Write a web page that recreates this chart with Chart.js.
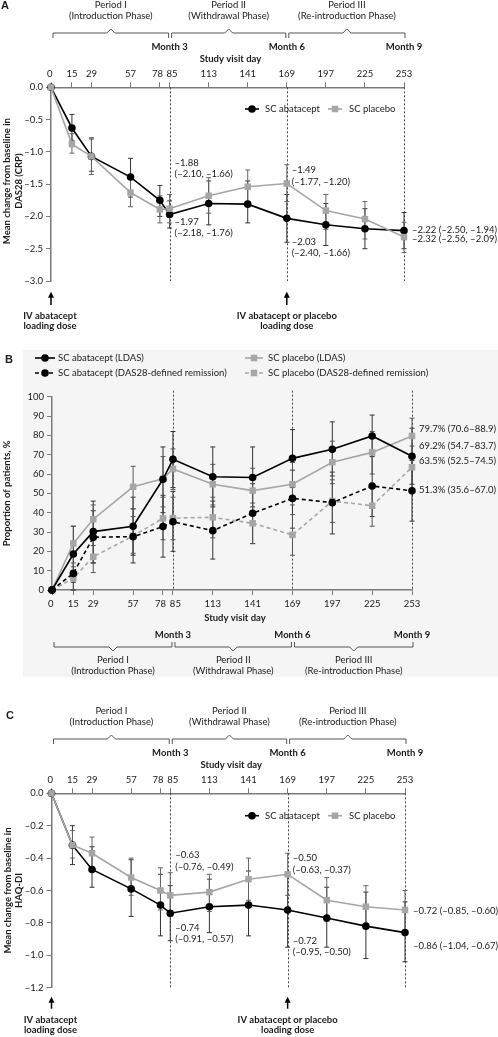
<!DOCTYPE html>
<html>
<head>
<meta charset="utf-8">
<title>Abatacept study visit charts</title>
<script src="https://cdn.jsdelivr.net/npm/chart.js@4.4.1/dist/chart.umd.min.js"></script>
<style>
  body { margin: 0; background: #fff; }
  #page { position: relative; width: 498px; height: 1037px; }
  #page canvas { position: absolute; left: 0; top: 0; }
</style>
</head>
<body>
<div id="page">
  <canvas id="chartA" width="498" height="1037"></canvas>
  <canvas id="chartB" width="498" height="1037"></canvas>
  <canvas id="chartC" width="498" height="1037"></canvas>
</div>
<script>
const FONT = 'Lato, "Liberation Sans", Arial, sans-serif';
const INK = '#1a1a1a';
const GRAY = '#a6a6a6';
const AXIS = '#7a7a7a';

// shared x values (study visit day)
const days = [0, 15, 29, 57, 78, 85, 113, 141, 169, 197, 225, 253];
const periodEdges = [0, 85, 169, 253];
const monthDays = [85, 169, 253];
const monthLabels = ['Month 3', 'Month 6', 'Month 9'];
const periodLabels = ['Period I', 'Period II', 'Period III'];
const phaseLabels = ['(Introduction Phase)', '(Withdrawal Phase)', '(Re-introduction Phase)'];

// Panel A - mean change in DAS28 (CRP)
const dasAbatacept     = [0, -0.63, -1.07, -1.39, -1.75, -1.97, -1.80, -1.81, -2.03, -2.13, -2.19, -2.22];
const dasAbataceptLow  = [null, -0.82, -1.30, -1.70, -2.00, -2.18, -2.13, -2.10, -2.40, -2.45, -2.50, -2.50];
const dasAbataceptHigh = [null, -0.42, -0.80, -1.10, -1.52, -1.76, -1.45, -1.45, -1.66, -1.80, -1.88, -1.94];
const dasPlacebo       = [0, -0.88, -1.07, -1.63, -1.89, -1.88, -1.68, -1.54, -1.49, -1.91, -2.04, -2.32];
const dasPlaceboLow    = [null, -1.02, -1.35, -1.85, -2.10, -2.10, -1.95, -1.80, -1.77, -2.20, -2.35, -2.56];
const dasPlaceboHigh   = [null, -0.72, -0.78, -1.40, -1.68, -1.66, -1.40, -1.28, -1.20, -1.66, -1.77, -2.09];

// Panel B - proportion of patients, %
const ldasAbatacept     = [0, 18.6, 30.2, 33.0, 57.3, 67.6, 58.6, 58.2, 68.1, 72.8, 79.7, 69.2];
const ldasAbataceptLow  = [null, 4, 14, 18, 40, 53, 43, 43, 53, 59, 69, 54.7];
const ldasAbataceptHigh = [null, 33, 46, 48, 74, 82, 74, 74, 83, 87, 90.5, 83.7];
const ldasPlacebo       = [0, 24.1, 36.6, 53.4, 57.5, 62.6, 54.7, 51.4, 54.7, 66.1, 71.2, 79.7];
const ldasPlaceboLow    = [null, 12, 23, 42, 43, 52, 44, 41, 44, 55, 60, 70.6];
const ldasPlaceboHigh   = [null, 33, 44, 64, 69, 73, 65, 63, 66, 77, 82, 88.9];
const remAbatacept      = [0, 8.6, 27.3, 27.6, 32.8, 35.3, 30.7, 39.7, 47.4, 45.2, 53.8, 51.3];
const remAbataceptLow   = [null, 0, 14, 14, 17, 20, 16, 24, 32, 29, 38, 35.6];
const remAbataceptHigh  = [null, 18, 41, 42, 49, 51, 46, 55, 62, 61, 70, 67.0];
const remPlacebo        = [0, 6.0, 17.2, 28.0, 37.1, 37.2, 37.6, 34.5, 28.5, 46.0, 43.6, 63.5];
const remPlaceboLow     = [null, 0, 9, 19, 26, 26, 27, 24, 18, 35, 33, 52.5];
const remPlaceboHigh    = [null, 14, 26, 38, 48, 48, 48, 45, 39, 57, 54, 74.5];

// Panel C - mean change in HAQ-DI
const haqAbatacept     = [0, -0.32, -0.47, -0.59, -0.69, -0.74, -0.70, -0.69, -0.72, -0.77, -0.82, -0.86];
const haqAbataceptLow  = [null, -0.44, -0.58, -0.76, -0.88, -0.91, -0.86, -0.88, -0.95, -0.95, -1.02, -1.04];
const haqAbataceptHigh = [null, -0.20, -0.33, -0.41, -0.50, -0.57, -0.53, -0.48, -0.50, -0.58, -0.61, -0.67];
const haqPlacebo       = [0, -0.32, -0.37, -0.52, -0.60, -0.63, -0.61, -0.53, -0.50, -0.66, -0.70, -0.72];
const haqPlaceboLow    = [null, -0.40, -0.46, -0.63, -0.72, -0.76, -0.73, -0.66, -0.63, -0.79, -0.82, -0.85];
const haqPlaceboHigh   = [null, -0.23, -0.27, -0.40, -0.46, -0.49, -0.50, -0.40, -0.37, -0.52, -0.57, -0.60];

const legendPair = ['SC abatacept', 'SC placebo'];
const legendB = ['SC abatacept (LDAS)', 'SC abatacept (DAS28-defined remission)',
                 'SC placebo (LDAS)', 'SC placebo (DAS28-defined remission)'];

// value labels next to the points (day, y anchor in axis units, text)
const dasNotes = [
  { day: 85, at: -1.17, lines: ['–1.88', '(–2.10, –1.66)'] },
  { day: 85, at: -2.08, lines: ['–1.97', '(–2.18, –1.76)'] },
  { day: 169, at: -1.28, lines: ['–1.49', '(–1.77, –1.20)'] },
  { day: 169, at: -2.39, lines: ['–2.03', '(–2.40, –1.66)'] },
  { day: 253, at: -2.215, lines: ['–2.22 (–2.50, –1.94)'], dx: 8 },
  { day: 253, at: -2.345, lines: ['–2.32 (–2.56, –2.09)'], dx: 8 }
];
const propNotes = [
  { day: 253, at: 83.3, lines: ['79.7% (70.6–88.9)'], dx: 7 },
  { day: 253, at: 74.6, lines: ['69.2% (54.7–83.7)'], dx: 7 },
  { day: 253, at: 66.9, lines: ['63.5% (52.5–74.5)'], dx: 7 },
  { day: 253, at: 51.7, lines: ['51.3% (35.6–67.0)'], dx: 7 }
];
const haqNotes = [
  { day: 85, at: -0.381, lines: ['–0.63', '(–0.76, –0.49)'] },
  { day: 85, at: -0.83, lines: ['–0.74', '(–0.91, –0.57)'] },
  { day: 169, at: -0.40, lines: ['–0.50', '(–0.63, –0.37)'] },
  { day: 169, at: -0.91, lines: ['–0.72', '(–0.95, –0.50)'] },
  { day: 253, at: -0.726, lines: ['–0.72 (–0.85, –0.60)'], dx: 8 },
  { day: 253, at: -0.942, lines: ['–0.86 (–1.04, –0.67)'], dx: 8 }
];

Chart.defaults.font.family = FONT;
Chart.defaults.font.size = 9.5;
Chart.defaults.color = INK;

// ---------- drawing helpers ----------
function txt(ctx, s, x, y, opts) {
  opts = opts || {};
  ctx.save();
  ctx.font = (opts.bold ? 'bold ' : '') + (opts.size || 9.5) + 'px ' + (opts.family || FONT);
  ctx.textAlign = opts.align || 'center';
  ctx.textBaseline = 'middle';
  ctx.fillStyle = opts.color || INK;
  ctx.fillText(s, x, y);
  ctx.restore();
}

function marker(ctx, x, y, point, color) {
  ctx.fillStyle = color;
  ctx.beginPath();
  if (point === 'circle') ctx.arc(x, y, 3.8, 0, Math.PI * 2);
  else ctx.rect(x - 3.25, y - 3.25, 6.5, 6.5);
  ctx.fill();
}

function legendMark(ctx, x1, x2, y, look) {
  ctx.save();
  ctx.strokeStyle = look.color;
  ctx.lineWidth = 1.6;
  ctx.setLineDash(look.dash || []);
  ctx.beginPath();
  ctx.moveTo(x1, y);
  ctx.lineTo(x2, y);
  ctx.stroke();
  ctx.setLineDash([]);
  marker(ctx, (x1 + x2) / 2, y, look.point, look.color);
  ctx.restore();
}

function bracket(ctx, x1, x2, y, dir) {
  const mid = (x1 + x2) / 2;
  ctx.beginPath();
  ctx.moveTo(x1, y + 5 * dir);
  ctx.lineTo(x1, y);
  ctx.lineTo(mid - 4, y);
  ctx.lineTo(mid, y - 4 * dir);
  ctx.lineTo(mid + 4, y);
  ctx.lineTo(x2, y);
  ctx.lineTo(x2, y + 5 * dir);
  ctx.stroke();
}

// periods, months and axis caption; above the plot for A and C, below for B
function periodScale(chart, above) {
  const ctx = chart.ctx, xs = chart.scales.x, a = chart.chartArea;
  const base = above ? a.top : a.bottom;
  const pos = above
    ? { period: -82.3, phase: -71.8, bracket: -54.3, month: -40.6, study: -28, dir: 1 }
    : { period: 70, phase: 81, bracket: 57, month: 45, study: 28, dir: -1 };
  ctx.save();
  ctx.strokeStyle = '#555';
  ctx.lineWidth = 1;
  for (let i = 0; i < 3; i++) {
    const x1 = xs.getPixelForValue(periodEdges[i]) + 2;
    const x2 = xs.getPixelForValue(periodEdges[i + 1]) + (i === 2 ? 1 : -1);
    bracket(ctx, x1, x2, base + pos.bracket, pos.dir);
    const mid = (x1 + x2) / 2;
    txt(ctx, periodLabels[i], mid, base + pos.period);
    txt(ctx, phaseLabels[i], mid, base + pos.phase);
    txt(ctx, monthLabels[i], xs.getPixelForValue(monthDays[i]), base + pos.month, { bold: true });
  }
  txt(ctx, 'Study visit day', (a.left + a.right) / 2 + 3, base + pos.study, { bold: true });
  ctx.restore();
}

function dottedLines(chart, topY) {
  const ctx = chart.ctx, xs = chart.scales.x, a = chart.chartArea;
  ctx.save();
  ctx.setLineDash([2, 2]);
  ctx.strokeStyle = '#444';
  ctx.lineWidth = 1;
  monthDays.forEach(d => {
    const px = Math.round(xs.getPixelForValue(d)) + 0.5;
    ctx.beginPath();
    ctx.moveTo(px, topY);
    ctx.lineTo(px, a.bottom);
    ctx.stroke();
  });
  ctx.restore();
}

function errorBars(chart) {
  const ctx = chart.ctx, xs = chart.scales.x, ys = chart.scales.y;
  chart.data.datasets.forEach(ds => {
    ctx.save();
    ctx.strokeStyle = ds.errColor;
    ctx.lineWidth = 1;
    ds.errLow.forEach((lo, i) => {
      if (lo == null) return;
      const px = xs.getPixelForValue(days[i]);
      const y1 = ys.getPixelForValue(lo);
      const y2 = ys.getPixelForValue(ds.errHigh[i]);
      ctx.beginPath();
      ctx.moveTo(px, y1); ctx.lineTo(px, y2);
      ctx.moveTo(px - 2.5, y1); ctx.lineTo(px + 2.5, y1);
      ctx.moveTo(px - 2.5, y2); ctx.lineTo(px + 2.5, y2);
      ctx.stroke();
    });
    ctx.restore();
  });
}

function notes(chart, list) {
  const xs = chart.scales.x, ys = chart.scales.y;
  list.forEach(n => {
    const x = xs.getPixelForValue(n.day) + (n.dx || 5);
    const y = ys.getPixelForValue(n.at);
    n.lines.forEach((s, i) => txt(chart.ctx, s, x, y + i * 11.5, { align: 'left', size: 9.5 }));
  });
}

function yTitle(ctx, lines, xs, cy) {
  ctx.save();
  ctx.font = 'bold 9.5px ' + FONT;
  ctx.fillStyle = INK;
  ctx.textAlign = 'center';
  ctx.textBaseline = 'middle';
  lines.forEach((s, i) => {
    ctx.save();
    ctx.translate(xs[i], cy);
    ctx.rotate(-Math.PI / 2);
    ctx.fillText(s, 0, 0);
    ctx.restore();
  });
  ctx.restore();
}

function doseArrows(chart, off) {
  const ctx = chart.ctx, xs = chart.scales.x, a = chart.chartArea;
  const spots = [
    { day: 0, lines: ['IV abatacept', 'loading dose'], shift: -1 },
    { day: 169, lines: ['IV abatacept or placebo', 'loading dose'], shift: 0 }
  ];
  ctx.save();
  spots.forEach(s => {
    const px = xs.getPixelForValue(s.day);
    const tip = a.bottom + off.tip, base = a.bottom + off.base;
    ctx.strokeStyle = '#000';
    ctx.fillStyle = '#000';
    ctx.lineWidth = 1.5;
    ctx.beginPath();
    ctx.moveTo(px, base);
    ctx.lineTo(px, tip + 4);
    ctx.stroke();
    ctx.beginPath();
    ctx.moveTo(px, tip);
    ctx.lineTo(px - 3, tip + 6);
    ctx.lineTo(px + 3, tip + 6);
    ctx.closePath();
    ctx.fill();
    s.lines.forEach((t, i) => txt(ctx, t, px + s.shift, a.bottom + off.text + i * 10.5, { bold: true }));
  });
  ctx.restore();
}

function pairLegend(ctx, y, looks) {
  legendMark(ctx, 245, 259, y, looks[0]);
  txt(ctx, legendPair[0], 265, y, { align: 'left' });
  legendMark(ctx, 328, 342, y, looks[1]);
  txt(ctx, legendPair[1], 349, y, { align: 'left' });
}

// day labels; 78 and 85 sit close, so nudge them apart with padding spaces
function dayLabel(v) {
  if (v === 0) return '0 ';
  if (v === 78) return '78  ';
  if (v === 85) return '  85';
  return String(v);
}

// ---------- datasets ----------
function series(vals, low, high, look) {
  return {
    data: days.map((d, i) => ({ x: d, y: vals[i] })),
    errLow: low,
    errHigh: high,
    errColor: look.errColor,
    borderColor: look.color,
    borderWidth: 1.6,
    borderDash: look.dash || [],
    pointStyle: look.point,
    pointRadius: look.point === 'rect' ? 4.6 : 3.8,
    pointHoverRadius: 0,
    pointBackgroundColor: look.color,
    pointBorderColor: look.color,
    pointBorderWidth: 0,
    tension: 0,
    clip: false,
    order: look.order
  };
}

function buildChart(id, area, xPos, yOpts, datasets, decor) {
  const W = 498, H = 1037, AX = 30;
  const pad = {
    left: 0,
    right: W - area.right,
    top: xPos === 'top' ? area.top - AX : area.top,
    bottom: xPos === 'top' ? H - area.bottom : H - area.bottom - AX
  };
  const grid = { drawOnChartArea: false, drawTicks: true, tickLength: 5, color: AXIS, lineWidth: 1 };
  return new Chart(document.getElementById(id), {
    type: 'line',
    data: { datasets: datasets },
    options: {
      responsive: false,
      animation: false,
      events: [],
      layout: { padding: pad },
      plugins: { legend: { display: false }, tooltip: { enabled: false } },
      scales: {
        x: {
          type: 'linear',
          position: xPos,
          min: 0,
          max: 253,
          afterFit: s => { s.height = AX; },
          afterBuildTicks: s => { s.ticks = days.map(v => ({ value: v })); },
          ticks: { autoSkip: false, maxRotation: 0, padding: 3, color: INK, callback: dayLabel },
          grid: grid,
          border: { color: AXIS, width: 1.5 }
        },
        y: {
          min: yOpts.min,
          max: yOpts.max,
          afterFit: s => { s.width = area.left; },
          ticks: { stepSize: yOpts.step, padding: 3, color: INK, callback: yOpts.format },
          grid: grid,
          border: { color: AXIS, width: 1.5 }
        }
      }
    },
    plugins: [decor]
  });
}

const signed = v => (v < -1e-9 ? '–' : '') + Math.abs(v).toFixed(1);

const lookAbaA = { color: '#000', point: 'circle', order: 1, errColor: '#333' };
const lookPlaA = { color: GRAY, point: 'rect', order: 0, errColor: '#666' };

// ---------- panel A ----------
buildChart('chartA', { left: 51, right: 404, top: 87.3, bottom: 281 }, 'top',
  { min: -3, max: 0, step: 0.5, format: signed },
  [
    series(dasAbatacept, dasAbataceptLow, dasAbataceptHigh, lookAbaA),
    series(dasPlacebo, dasPlaceboLow, dasPlaceboHigh, lookPlaA)
  ],
  {
    id: 'decorA',
    beforeDatasetsDraw(chart) {
      dottedLines(chart, chart.chartArea.top);
      errorBars(chart);
    },
    afterDraw(chart) {
      const ctx = chart.ctx, a = chart.chartArea;
      txt(ctx, 'A', 5, 6, { bold: true, size: 11, family: '"Liberation Sans", Arial, sans-serif' });
      periodScale(chart, true);
      yTitle(ctx, ['Mean change from baseline in', 'DAS28 (CRP)'], [7, 18.5], (a.top + a.bottom) / 2 - 3);
      pairLegend(ctx, 109, [lookAbaA, lookPlaA]);
      notes(chart, dasNotes);
      doseArrows(chart, { tip: 10.7, base: 24, text: 34.7 });
    }
  });

// ---------- panel B ----------
const lookLdasAba = { color: '#000', point: 'circle', order: 0, errColor: '#333' };
const lookRemAba = { color: '#000', point: 'circle', order: 1, errColor: '#333', dash: [4, 3] };
const lookLdasPla = { color: GRAY, point: 'rect', order: 2, errColor: '#555' };
const lookRemPla = { color: GRAY, point: 'rect', order: 3, errColor: '#555', dash: [4, 3] };

buildChart('chartB', { left: 52, right: 412, top: 396.7, bottom: 590 }, 'bottom',
  { min: 0, max: 100, step: 10, format: v => String(Math.round(v)) },
  [
    series(ldasAbatacept, ldasAbataceptLow, ldasAbataceptHigh, lookLdasAba),
    series(remAbatacept, remAbataceptLow, remAbataceptHigh, lookRemAba),
    series(ldasPlacebo, ldasPlaceboLow, ldasPlaceboHigh, lookLdasPla),
    series(remPlacebo, remPlaceboLow, remPlaceboHigh, lookRemPla)
  ],
  {
    id: 'decorB',
    beforeDraw(chart) {
      const ctx = chart.ctx;
      ctx.save();
      ctx.fillStyle = '#f5f5f5';
      ctx.fillRect(23, 350, 475, 327);
      ctx.restore();
    },
    beforeDatasetsDraw(chart) {
      dottedLines(chart, chart.chartArea.top - 6);
      errorBars(chart);
    },
    afterDraw(chart) {
      const ctx = chart.ctx, a = chart.chartArea;
      txt(ctx, 'B', 9, 359.5, { bold: true, size: 11, family: '"Liberation Sans", Arial, sans-serif' });
      legendMark(ctx, 35, 55, 358, lookLdasAba);
      txt(ctx, legendB[0], 58, 358, { align: 'left' });
      legendMark(ctx, 35, 55, 373, lookRemAba);
      txt(ctx, legendB[1], 58, 373, { align: 'left' });
      legendMark(ctx, 245, 263, 358, lookLdasPla);
      txt(ctx, legendB[2], 268, 358, { align: 'left' });
      legendMark(ctx, 245, 263, 373, lookRemPla);
      txt(ctx, legendB[3], 268, 373, { align: 'left' });
      yTitle(ctx, ['Proportion of patients, %'], [7], (a.top + a.bottom) / 2);
      notes(chart, propNotes);
      periodScale(chart, false);
    }
  });

// ---------- panel C ----------
buildChart('chartC', { left: 51.5, right: 405, top: 793.3, bottom: 987.7 }, 'top',
  { min: -1.2, max: 0, step: 0.2, format: signed },
  [
    series(haqAbatacept, haqAbataceptLow, haqAbataceptHigh, lookAbaA),
    series(haqPlacebo, haqPlaceboLow, haqPlaceboHigh, lookPlaA)
  ],
  {
    id: 'decorC',
    beforeDatasetsDraw(chart) {
      dottedLines(chart, chart.chartArea.top);
      errorBars(chart);
    },
    afterDraw(chart) {
      const ctx = chart.ctx, a = chart.chartArea;
      txt(ctx, 'C', 10, 715.7, { bold: true, size: 11, family: '"Liberation Sans", Arial, sans-serif' });
      periodScale(chart, true);
      yTitle(ctx, ['Mean change from baseline in', 'HAQ-DI'], [7.5, 18.5], (a.top + a.bottom) / 2);
      pairLegend(ctx, 815.7, [lookAbaA, lookPlaA]);
      notes(chart, haqNotes);
      doseArrows(chart, { tip: 9, base: 21, text: 31.8 });
    }
  });
</script>
</body>
</html>
